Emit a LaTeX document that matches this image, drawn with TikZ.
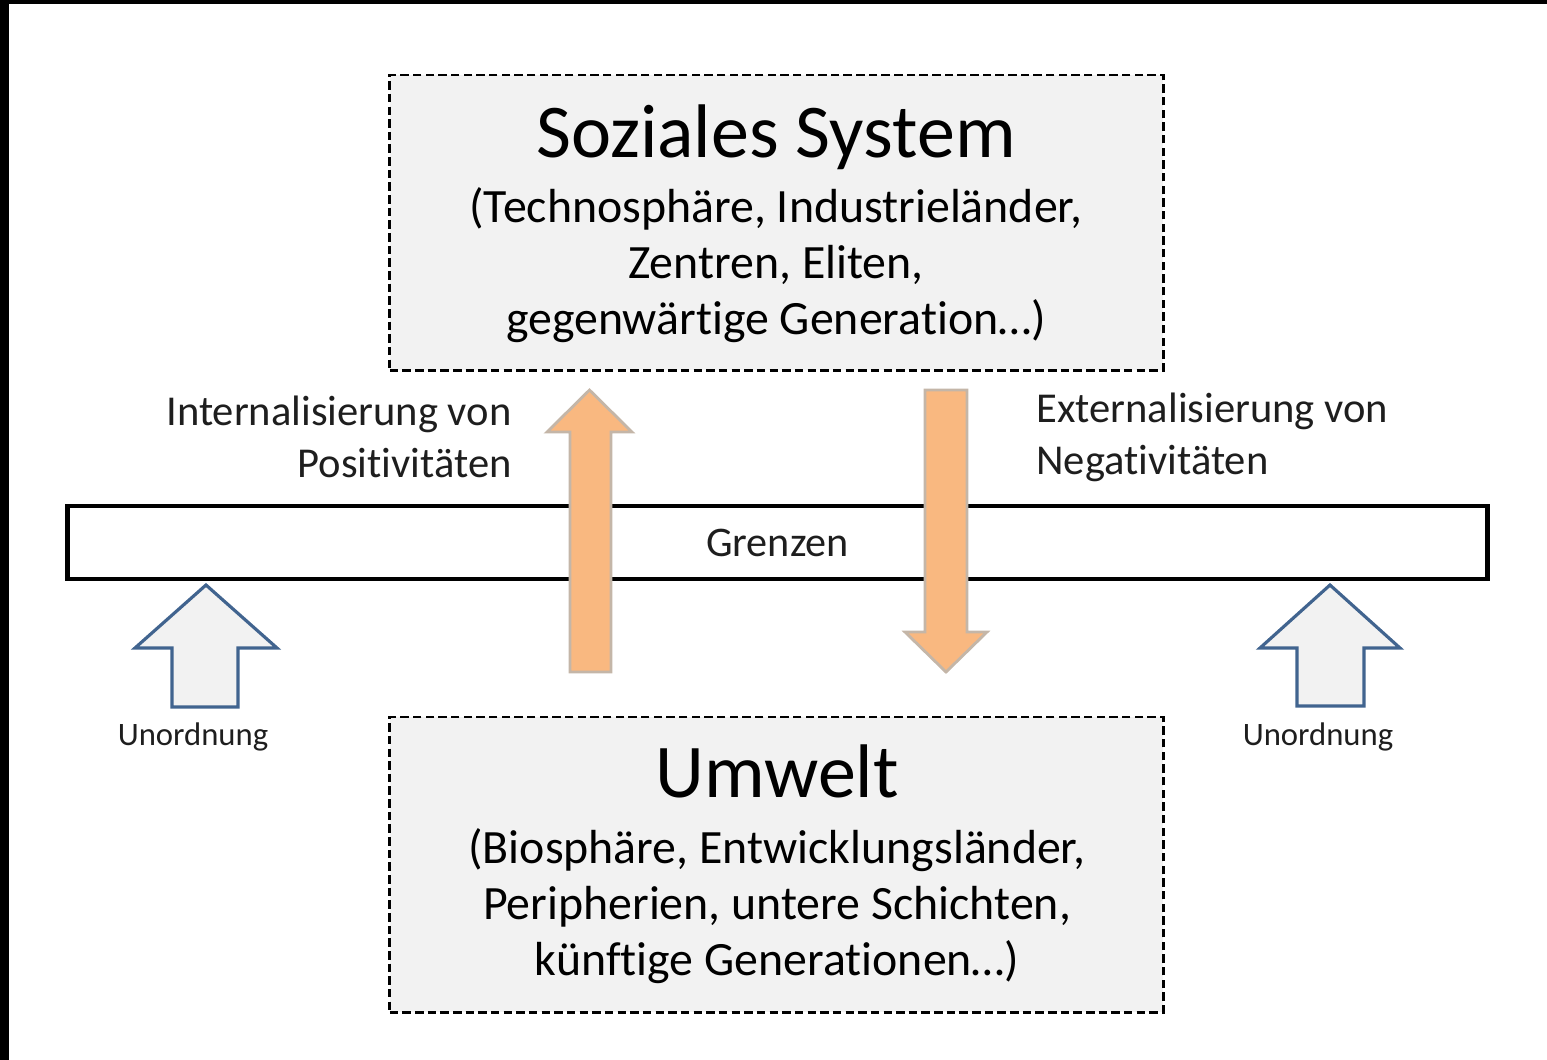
\documentclass[tikz,border=0pt]{standalone}
\usepackage{fontspec}
\setmainfont{Carlito}[Ligatures=NoCommon]
\definecolor{boxgray}{HTML}{F2F2F2}
\definecolor{peach}{HTML}{F9B880}
\definecolor{peachline}{HTML}{C4B6A8}
\definecolor{steel}{HTML}{41648F}
\definecolor{inkgray}{HTML}{1E1E1E}
\tikzset{
  sysbox/.style={draw=black, fill=boxgray, line width=0.8pt, dash pattern=on 2.4pt off 1.2pt},
  bigtitle/.style={font=\fontsize{21.6}{25}\selectfont, text=black},
  subtext/.style={font=\fontsize{13.6}{16}\selectfont, align=center, text=black},
  sidetext/.style={font=\fontsize{12.1}{14.8}\selectfont, text=inkgray},
  flowarrow/.style={fill=peach, draw=peachline, line width=0.8pt, line join=miter},
  disorder/.style={fill=boxgray, draw=steel, line width=0.9pt, line join=miter},
  smalltext/.style={font=\fontsize{9.3}{11}\selectfont, text=inkgray}
}
\begin{document}
\begin{tikzpicture}[x=0.01cm, y=-0.01cm]
      \useasboundingbox (0,0) rectangle (1547,1060);
      % black frame at the top and left edge
      \fill[black] (0,0) rectangle (1547,4);
      \fill[black] (0,0) rectangle (9,1060);

      % upper box
      \node (sozial) [sysbox, minimum width=7.73cm, minimum height=2.95cm] at (776.5,222.5) {};
      \node (sozialtitle) [bigtitle, anchor=base] at (776,157) {Soziales System};
      \node (sozialtext) [subtext] at (776,265) {(Technosphäre, Industrieländer,\\Zentren, Eliten,\\gegenwärtige Generation…)};

      % lower box
      \node (umwelt) [sysbox, minimum width=7.73cm, minimum height=2.95cm] at (776.5,864.5) {};
      \node (umwelttitle) [bigtitle, anchor=base] at (777,797) {Umwelt};
      \node (umwelttext) [subtext] at (777,906) {(Biosphäre, Entwicklungsländer,\\Peripherien, untere Schichten,\\künftige Generationen…)};

      % boundary
      \node (grenzen) [draw=black, line width=1.2pt, minimum width=14.19cm, minimum height=0.73cm, font=\fontsize{12}{14}\selectfont, text=inkgray] at (777.5,542.5) {Grenzen};

      % flows across the boundary
      \draw[flowarrow] (570,672) -- (570,432) -- (547,432) -- (589.5,390) -- (632,432) -- (611,432) -- (611,672) -- cycle;
      \draw[flowarrow] (925,390) -- (967,390) -- (967,632) -- (987,632) -- (946,672) -- (905,632) -- (925,632) -- cycle;
      \node (intern) [sidetext, align=right, anchor=east] at (524,437) {Internalisierung von\\Positivitäten};
      \node (extern) [sidetext, align=left, anchor=west] at (1024,437) {Externalisierung von\\Negativitäten};

      % disorder from outside
      \draw[disorder] (172,707) -- (172,648) -- (135,648) -- (206,585) -- (277,648) -- (238,648) -- (238,707) -- cycle;
      \draw[disorder] (1297,706) -- (1297,648) -- (1260,648) -- (1330,585) -- (1400,648) -- (1364,648) -- (1364,706) -- cycle;
      \node (chaosleft) [smalltext] at (193,737) {Unordnung};
      \node (chaosright) [smalltext] at (1318,737) {Unordnung};
\end{tikzpicture}
\end{document}
